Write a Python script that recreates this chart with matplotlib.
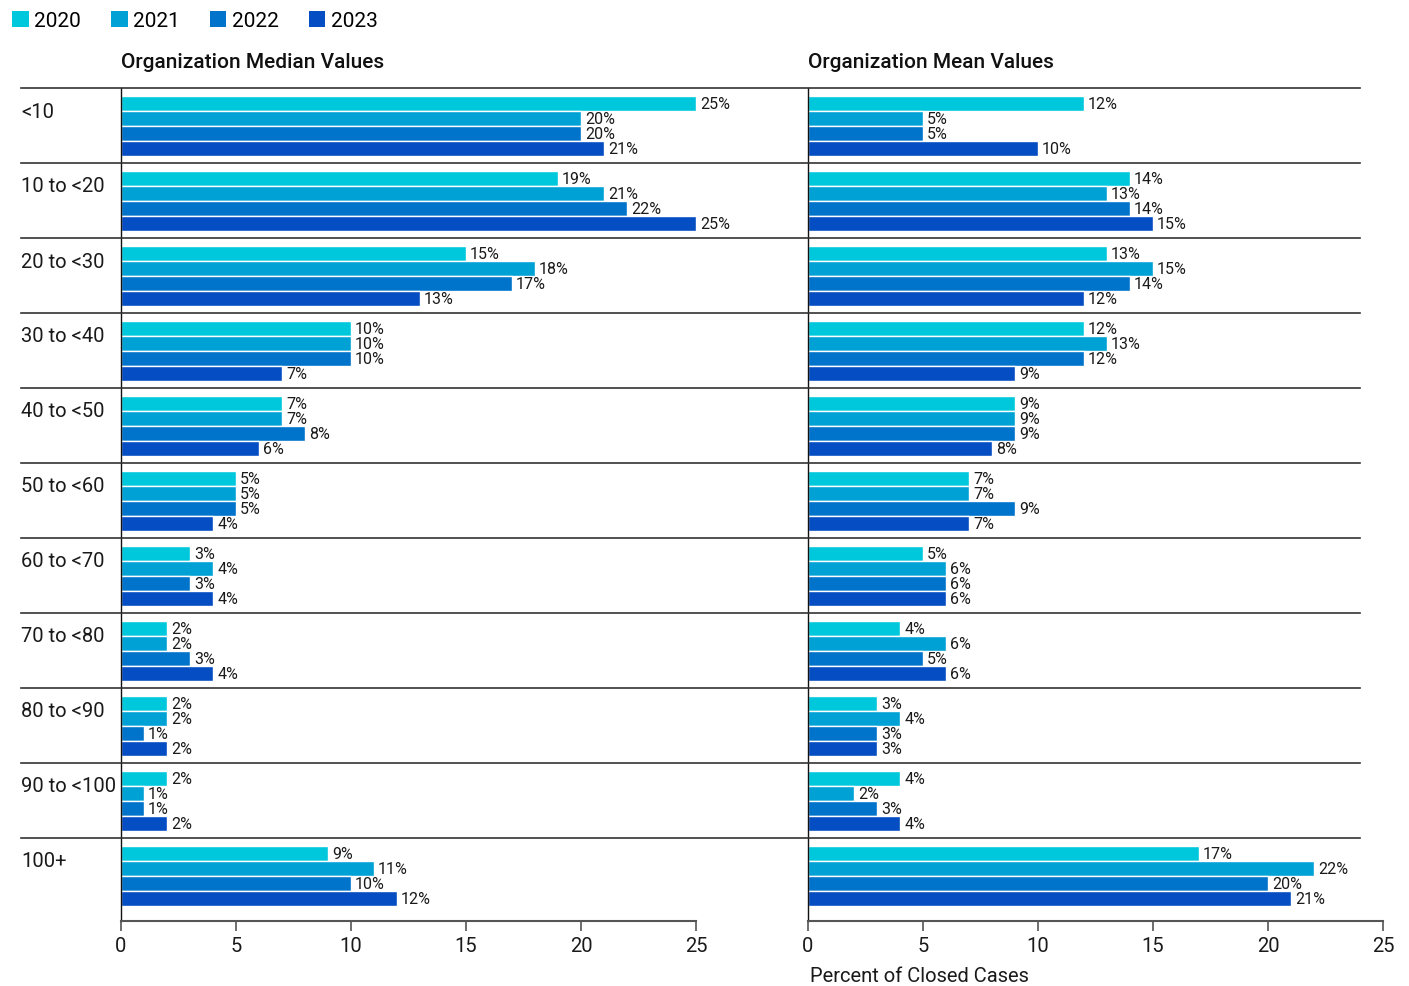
import matplotlib
matplotlib.use("Agg")
import matplotlib.pyplot as plt
import matplotlib.transforms as mtransforms
from matplotlib.patches import Patch
from matplotlib.lines import Line2D
import numpy as np

plt.rcParams['font.family'] = ['Roboto', 'DejaVu Sans']

categories = ["<10", "10 to <20", "20 to <30", "30 to <40", "40 to <50", "50 to <60",
              "60 to <70", "70 to <80", "80 to <90", "90 to <100", "100+"]
years = ["2020", "2021", "2022", "2023"]
colors = ["#00C8DC", "#00A2D6", "#0073CB", "#044DC3"]

median_2020 = [25, 19, 15, 10, 7, 5, 3, 2, 2, 2, 9]
median_2021 = [20, 21, 18, 10, 7, 5, 4, 2, 2, 1, 11]
median_2022 = [20, 22, 17, 10, 8, 5, 3, 3, 1, 1, 10]
median_2023 = [21, 25, 13, 7, 6, 4, 4, 4, 2, 2, 12]

mean_2020 = [12, 14, 13, 12, 9, 7, 5, 4, 3, 4, 17]
mean_2021 = [5, 13, 15, 13, 9, 7, 6, 6, 4, 2, 22]
mean_2022 = [5, 14, 14, 12, 9, 9, 6, 5, 3, 3, 20]
mean_2023 = [10, 15, 12, 9, 8, 7, 6, 6, 3, 4, 21]

median = [median_2020, median_2021, median_2022, median_2023]
mean = [mean_2020, mean_2021, mean_2022, mean_2023]

W, H = 1409, 987
fig = plt.figure(figsize=(W / 100, H / 100), dpi=100)

def fx(px):
    return px / W

def fy(py):
    return 1 - py / H

ax_top, ax_bot = 89, 922
ax_h_px = ax_bot - ax_top
ax1 = fig.add_axes([fx(121), fy(ax_bot), fx(696) - fx(121), fy(ax_top) - fy(ax_bot)])
ax2 = fig.add_axes([fx(808), fy(ax_bot), fx(1383) - fx(808), fy(ax_top) - fy(ax_bot)])

n = len(categories)
band = 75.0
ymax = ax_h_px / band
bar_h = 15 / band
first_off = 8 / band

for ax, data, title in [(ax1, median, "Organization Median Values"),
                        (ax2, mean, "Organization Mean Values")]:
    for j, (vals, c) in enumerate(zip(data, colors)):
        ypos = np.arange(n) + first_off + bar_h * j + bar_h / 2
        bars = ax.barh(ypos, vals, height=bar_h, color=c, edgecolor="white",
                       linewidth=1.0, label=years[j])
        ax.bar_label(bars, labels=[f"{v}%" for v in vals], padding=3,
                     fontsize=11.5, color="#1a1a1a")
    ax.set_xlim(0, 25)
    ax.set_ylim(ymax, 0)
    ax.set_xticks([0, 5, 10, 15, 20, 25])
    ax.set_yticks([])
    ax.tick_params(axis="x", labelsize=14.5, length=7, width=1.2, color="#555555",
                   labelcolor="#1a1a1a", pad=4)
    for s in ["top", "right"]:
        ax.spines[s].set_visible(False)
    ax.spines["left"].set_color("#111111")
    ax.spines["left"].set_linewidth(1.0)
    ax.spines["bottom"].set_color("#555555")
    ax.spines["bottom"].set_linewidth(1.5)
    ax.text(0.0, 1 + 26 / ax_h_px, title, transform=ax.transAxes, fontsize=15,
            fontweight="medium", ha="left", va="center", color="#111111")

# separator lines spanning both panels
for i in range(n):
    y = fy(ax_top + band * i)
    fig.add_artist(Line2D([fx(21), fx(1360)], [y, y], color="#333333", linewidth=1.2))

# category labels
trans = mtransforms.blended_transform_factory(fig.transFigure, ax1.transData)
for i, cat in enumerate(categories):
    ax1.text(fx(21), i + 23 / band, cat, transform=trans, fontsize=14.5,
             ha="left", va="center", color="#1a1a1a", clip_on=False)

fig.text(fx(810), fy(977), "Percent of Closed Cases", fontsize=14.5, ha="left",
         va="center", color="#1a1a1a")

handles = [Patch(facecolor=c, edgecolor="none", label=y) for c, y in zip(colors, years)]
fig.legend(handles=handles, loc="upper left", bbox_to_anchor=(fx(12), fy(12)), ncol=4,
           frameon=False, fontsize=15, handlelength=0.8, handleheight=0.8,
           handletextpad=0.25, columnspacing=1.45, borderaxespad=0, borderpad=0)

fig.savefig("out.png", dpi=100)
